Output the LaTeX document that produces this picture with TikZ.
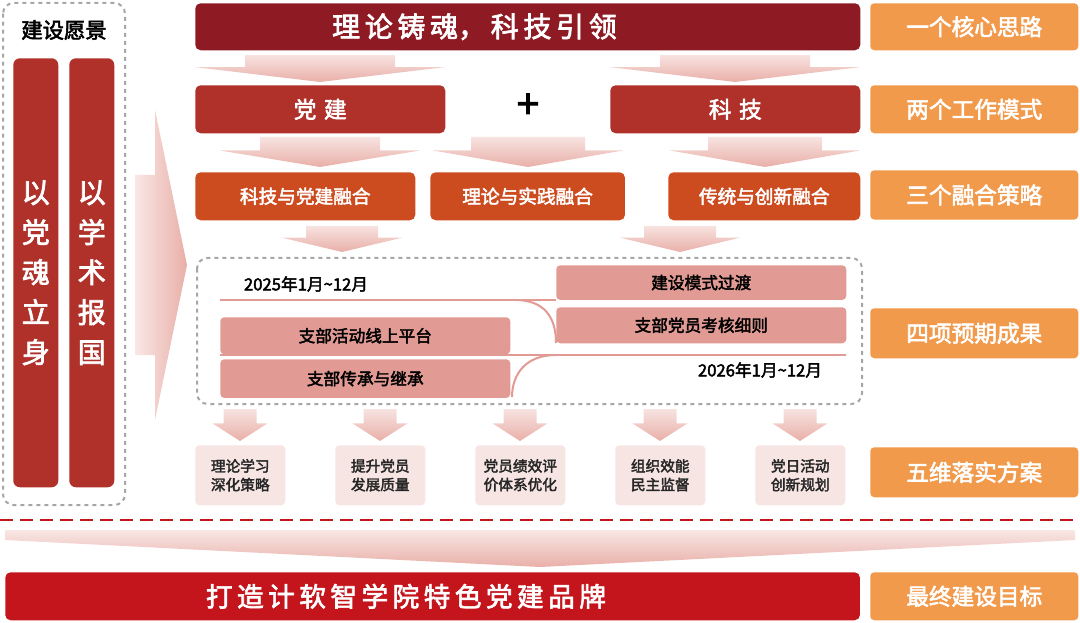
\documentclass[tikz,border=0pt]{standalone}
\usepackage{fontspec}
\setmainfont{Noto Sans CJK SC}
\newfontfamily\heavy{Noto Sans CJK SC}[FakeBold=2.5]
\usetikzlibrary{shapes.geometric}
\definecolor{dred}{HTML}{8E1B24}
\definecolor{mred}{HTML}{B0302A}
\definecolor{ored}{HTML}{CC4B1F}
\definecolor{lab}{HTML}{F19A4C}
\definecolor{pinkb}{HTML}{E19B94}
\definecolor{pale}{HTML}{F6E5E3}
\definecolor{arr}{HTML}{E9AFA8}
\definecolor{bred}{HTML}{C4141C}
\tikzset{
 lbl/.style={fill=lab,rounded corners=3pt,text=white,font=\heavy\fontsize{17}{17}\selectfont,anchor=north west},
 mbox/.style={rounded corners=4pt,text=white,font=\heavy\fontsize{17}{17}\selectfont,anchor=north west},
 tbox/.style={fill=pinkb,text=black,font=\heavy\fontsize{12.5}{13}\selectfont,anchor=north west,rounded corners=3pt},
 pbox/.style={fill=pale,text=black!85,font=\heavy\fontsize{11}{14}\selectfont,align=center,anchor=north west,rounded corners=3pt,minimum width=67.5pt,minimum height=45pt,inner sep=0pt},
}
\newcommand{\downarr}[4]{% cx, y1, y2, w
 \pgfmathsetmacro{\ym}{#2+0.45*(#3-#2)}
 \shade[top color=arr!35,bottom color=arr] (#1-0.3*#4,#2)--(#1+0.3*#4,#2)--(#1+0.3*#4,\ym)--(#1+0.5*#4,\ym)--(#1,#3)--(#1-0.5*#4,\ym)--(#1-0.3*#4,\ym)--cycle;}
\begin{document}
\begin{tikzpicture}[x=0.75pt,y=-0.75pt]
\useasboundingbox (0,0) rectangle (1080,623);
% left vision
\draw[gray!70,dashed,line width=1.5pt,rounded corners=8pt] (3,3) rectangle (125,505);
\node[font=\heavy\fontsize{16}{16}\selectfont] (vt) at (64,30) {建设愿景};
\node[fill=mred,rounded corners=5pt,anchor=north west,minimum width=33.75pt,minimum height=321.75pt,inner sep=0pt] (b1) at (13,58) {};
\node[fill=mred,rounded corners=5pt,anchor=north west,minimum width=33.75pt,minimum height=321.75pt,inner sep=0pt] (b2) at (69,58) {};
\node[text=white,font=\heavy\fontsize{21}{30}\selectfont,align=center] (t1) at (b1) {以\\党\\魂\\立\\身};
\node[text=white,font=\heavy\fontsize{21}{30}\selectfont,align=center] (t2) at (b2) {以\\学\\术\\报\\国};
% big arrow
\shade[left color=arr!30,right color=arr] (135,175)--(155,175)--(155,110)--(187,265)--(155,420)--(155,355)--(135,355)--cycle;
% top
\node[mbox,fill=dred,minimum width=498.75pt,minimum height=35.25pt,inner sep=0pt] (top) at (195,3) {};
\node[text=white,font=\heavy\fontsize{21}{21}\selectfont] at ([xshift=-40pt]top.center) {理\,论\,铸\,魂，\,科\,技\,引\,领};
\downarr{320}{55}{82}{250}
\downarr{735}{55}{82}{250}
\node[mbox,fill=mred,minimum width=187.5pt,minimum height=36pt,inner sep=0pt] (dj) at (195,85) {党\,\,建};
\node[mbox,fill=mred,minimum width=187.5pt,minimum height=36pt,inner sep=0pt] (kj) at (610,85) {科\,\,技};
\node[font=\heavy\fontsize{30}{30}\selectfont] (plus) at (528,106) {+};
\downarr{320}{137}{167}{200}
\downarr{528}{137}{167}{190}
\downarr{765}{137}{167}{190}
\node[mbox,fill=ored,minimum width=165pt,minimum height=36pt,inner sep=0pt,font=\heavy\fontsize{14}{14}\selectfont] (f1) at (195,172) {科技与党建融合};
\node[mbox,fill=ored,minimum width=146pt,minimum height=36pt,inner sep=0pt,font=\heavy\fontsize{14}{14}\selectfont] (f2) at (430,172) {理论与实践融合};
\node[mbox,fill=ored,minimum width=144pt,minimum height=36pt,inner sep=0pt,font=\heavy\fontsize{14}{14}\selectfont] (f3) at (668,172) {传统与创新融合};
\downarr{342}{226}{252}{120}
\downarr{680}{226}{252}{120}
% timeline
\draw[gray!70,dashed,line width=1.5pt,rounded corners=8pt] (197,258) rectangle (862,404);
\node[tbox,minimum width=217.5pt,minimum height=26pt,inner sep=0pt] (m1) at (556,265) {建设模式过渡};
\node[tbox,minimum width=217.5pt,minimum height=27pt,inner sep=0pt] (m2) at (556,307) {支部党员考核细则};
\node[tbox,minimum width=217.5pt,minimum height=27.75pt,inner sep=0pt] (m3) at (220,317) {支部活动线上平台};
\node[tbox,minimum width=217.5pt,minimum height=29pt,inner sep=0pt] (m4) at (220,359) {支部传承与继承};
\draw[pinkb,line width=1.5pt] (220,300)--(556,300);
\draw[pinkb,line width=1.5pt] (515,300) .. controls (545,300) and (556,318) .. (556,343);
\draw[pinkb,line width=2pt] (220,355)--(846,355);
\draw[pinkb,line width=1.5pt] (556,355) .. controls (525,355) and (512,375) .. (512,397);
\node[font=\heavy\fontsize{12.5}{13}\selectfont] (d1) at (306,284) {2025年1月\char`~12月};
\node[font=\heavy\fontsize{12.5}{13}\selectfont] (d2) at (760,370) {2026年1月\char`~12月};
% five
\foreach \c in {240,380,520,660,800}{\downarr{\c}{409}{441}{55}}
\node[pbox] (p1) at (195,445) {理论学习\\深化策略};
\node[pbox] (p2) at (335,445) {提升党员\\发展质量};
\node[pbox] (p3) at (475,445) {党员绩效评\\价体系优化};
\node[pbox] (p4) at (615,445) {组织效能\\民主监督};
\node[pbox] (p5) at (755,445) {党日活动\\创新规划};
% labels
\node[lbl,minimum width=156pt,minimum height=35.25pt,inner sep=0pt] (l1) at (870,3) {一个核心思路};
\node[lbl,minimum width=156pt,minimum height=36pt,inner sep=0pt] (l2) at (870,85) {两个工作模式};
\node[lbl,minimum width=156pt,minimum height=37pt,inner sep=0pt] (l3) at (870,170) {三个融合策略};
\node[lbl,minimum width=156pt,minimum height=37.5pt,inner sep=0pt] (l4) at (870,308) {四项预期成果};
\node[lbl,minimum width=156pt,minimum height=37.5pt,inner sep=0pt] (l5) at (870,447) {五维落实方案};
\node[lbl,minimum width=156pt,minimum height=36pt,inner sep=0pt] (l6) at (870,572) {最终建设目标};
% bottom
\draw[bred,dashed,line width=1.5pt,dash pattern=on 10pt off 5pt] (0,520)--(1080,520);
\shade[top color=arr!30,bottom color=arr] (5,530)--(1075,530)--(1075,540)--(540,567)--(5,540)--cycle;
\node[mbox,fill=bred,minimum width=641pt,minimum height=36pt,inner sep=0pt] (goal) at (5,572) {};
\node[text=white,font=\heavy\fontsize{20}{20}\selectfont] at ([xshift=-20pt]goal.center) {打\,造\,计\,软\,智\,学\,院\,特\,色\,党\,建\,品\,牌};
\end{tikzpicture}
\end{document}
